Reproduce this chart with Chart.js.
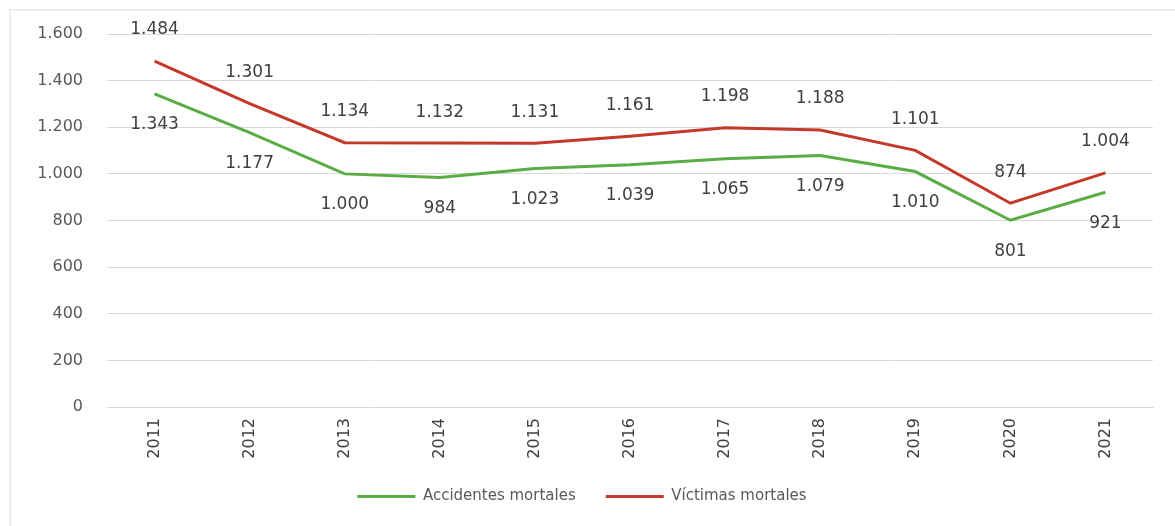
<!DOCTYPE html>
<html>
<head>
<meta charset="utf-8">
<script src="https://cdn.jsdelivr.net/npm/chart.js@4.4.0/dist/chart.umd.min.js"></script>
<style>
  body { margin: 0; background: #fff; }
  #box {
    position: absolute; left: 9px; top: 9px; width: 1166px; height: 517px;
    border-top: 2px solid #ececec; border-left: 2px solid #ececec;
  }
  #wrap { width: 1164px; height: 515px; }
</style>
</head>
<body>
<div id="box"><div id="wrap"><canvas id="myChart"></canvas></div></div>
<script>
const years = ['2011', '2012', '2013', '2014', '2015', '2016', '2017', '2018', '2019', '2020', '2021'];
const accidentes = [1343, 1177, 1000, 984, 1023, 1039, 1065, 1079, 1010, 801, 921];
const victimas = [1484, 1301, 1134, 1132, 1131, 1161, 1198, 1188, 1101, 874, 1004];
const yTicks = [0, 200, 400, 600, 800, 1000, 1200, 1400, 1600];

function fmt(v) {
    return String(v).replace(/\B(?=(\d{3})+(?!\d))/g, '.');
}

// labels above the red line, below the green one
const valueLabels = {
    id: 'valueLabels',
    afterDatasetsDraw(chart) {
        const ctx = chart.ctx;
        ctx.save();
        ctx.font = '17px "DejaVu Sans"';
        ctx.fillStyle = '#404040';
        ctx.textAlign = 'center';
        ctx.textBaseline = 'middle';
        chart.data.datasets.forEach((ds, i) => {
            const meta = chart.getDatasetMeta(i);
            const off = ds.labelOffset;
            meta.data.forEach((pt, j) => {
                ctx.fillText(fmt(ds.data[j]), pt.x, pt.y + off);
            });
        });
        ctx.restore();
    }
};

const ctx = document.getElementById('myChart');
new Chart(ctx, {
    type: 'line',
    data: {
        labels: years,
        datasets: [{
            label: 'Accidentes mortales',
            data: accidentes,
            borderColor: '#5aac44',
            backgroundColor: '#5aac44',
            borderWidth: 3,
            pointRadius: 0,
            labelOffset: 31
        }, {
            label: 'Víctimas mortales',
            data: victimas,
            borderColor: '#c4392a',
            backgroundColor: '#c4392a',
            borderWidth: 3,
            pointRadius: 0,
            labelOffset: -31
        }]
    },
    options: {
        responsive: true,
        maintainAspectRatio: false,
        animation: false,
        layout: { padding: { top: 23, right: 22, bottom: 12, left: 0 } },
        plugins: {
            tooltip: { enabled: false },
            legend: {
                position: 'bottom',
                labels: {
                    usePointStyle: true,
                    pointStyle: 'line',
                    pointStyleWidth: 58,
                    padding: 30,
                    color: '#595959',
                    font: { family: 'DejaVu Sans', size: 15 }
                }
            }
        },
        scales: {
            x: {
                offset: true,
                grid: { display: false, drawTicks: false },
                border: { display: true, color: '#d9d9d9' },
                ticks: {
                    minRotation: 90, maxRotation: 90,
                    padding: 11,
                    color: '#404040',
                    font: { family: 'DejaVu Sans', size: 16 }
                },
                afterFit: s => { s.height = 52; }
            },
            y: {
                min: 0, max: 1600,
                afterBuildTicks: s => { s.ticks = yTicks.map(v => ({ value: v })); },
                grid: { color: '#d9d9d9', drawTicks: true, tickLength: 21, tickColor: 'rgba(0,0,0,0)' },
                border: { display: false },
                ticks: {
                    padding: 3,
                    color: '#595959',
                    font: { family: 'DejaVu Sans', size: 16 },
                    callback: v => fmt(v)
                },
                afterFit: s => { s.width = 96; }
            }
        }
    },
    plugins: [valueLabels]
});
</script>
</body>
</html>
